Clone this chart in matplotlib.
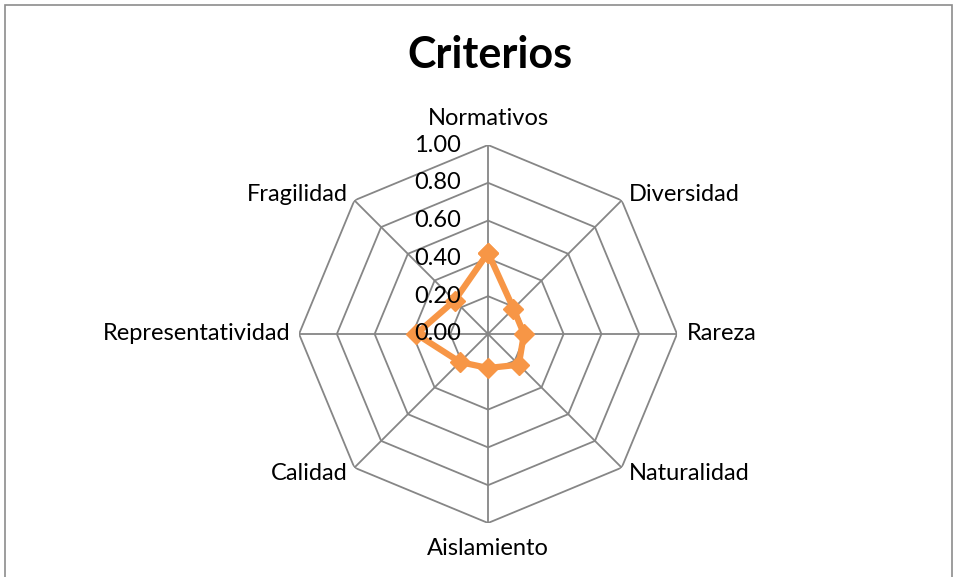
import numpy as np
import matplotlib.pyplot as plt
from matplotlib.patches import Rectangle

plt.rcParams['font.family'] = ['Lato', 'DejaVu Sans']

criterios = ["Normativos", "Diversidad", "Rareza", "Naturalidad",
             "Aislamiento", "Calidad", "Representatividad", "Fragilidad"]
valores = [0.43, 0.19, 0.19, 0.23, 0.18, 0.21, 0.38, 0.25]
ticks = [0.0, 0.2, 0.4, 0.6, 0.8, 1.0]
tick_labels = ["0.00", "0.20", "0.40", "0.60", "0.80", "1.00"]

n = len(criterios)
angulos = np.linspace(0, 2 * np.pi, n, endpoint=False)
cerrado = np.append(angulos, angulos[0])

fig = plt.figure(figsize=(9.56, 5.77), dpi=100)
fig.patches.append(Rectangle((4.5 / 956, -0.02), 947 / 956, 1.02 - 5 / 577,
                             transform=fig.transFigure, fill=False,
                             edgecolor='#8c8c8c', linewidth=1.2))

ax = fig.add_axes([0.3128, 0.0936, 0.3954, 0.6551], projection='polar')
ax.set_theta_zero_location('N')
ax.set_theta_direction(-1)
ax.set_ylim(0, 1)
ax.grid(False)
ax.spines['polar'].set_visible(False)
ax.set_xticks([])
ax.set_yticks([])
ax.patch.set_alpha(0)

gris = '#868686'
for r in ticks[1:]:
    ax.plot(cerrado, [r] * len(cerrado), color=gris, lw=1.3, zorder=1)
for a in angulos:
    ax.plot([a, a], [0, 1], color=gris, lw=1.3, zorder=1)

datos = np.append(valores, valores[0])
ax.plot(cerrado, datos, color='#F79646', lw=4.5, marker='D', markersize=10,
        zorder=3)

for r, lab in zip(ticks, tick_labels):
    ax.annotate(lab, (0, r), xytext=(-27, 0), textcoords='offset pixels',
                ha='right', va='center', fontsize=17, zorder=4)

offsets = [(0, 27, 'center', 'center'), (7, 6, 'left', 'center'),
           (10, 0, 'left', 'center'), (7, -6, 'left', 'center'),
           (0, -26, 'center', 'center'), (-7, -6, 'right', 'center'),
           (-9, 0, 'right', 'center'), (-7, 6, 'right', 'center')]
for a, lab, (dx, dy, ha, va) in zip(angulos, criterios, offsets):
    ax.annotate(lab, (a, 1), xytext=(dx, dy), textcoords='offset pixels',
                ha=ha, va=va, fontsize=17)

fig.text(490 / 956, 1 - 55 / 577, "Criterios", ha='center', va='center',
         fontsize=31, fontweight='bold')

fig.savefig('out.png', dpi=100)
